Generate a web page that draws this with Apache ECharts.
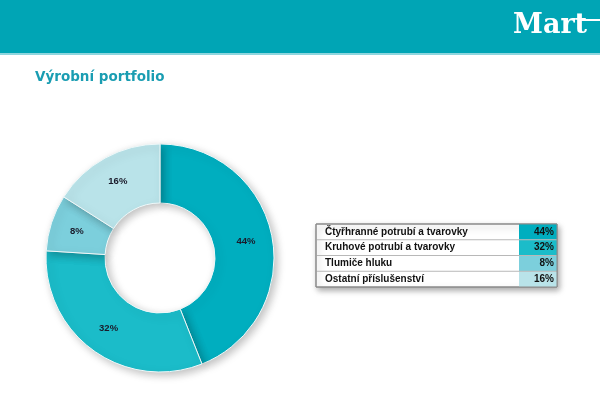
<!DOCTYPE html>
<html><head><meta charset="utf-8">
<script src="https://cdn.jsdelivr.net/npm/echarts@6/dist/echarts.min.js"></script>
<style>html,body{margin:0;padding:0;background:#fff}#c{width:600px;height:393px}</style>
</head><body><div id="c"></div>
<script>
const categories = ['Čtyřhranné potrubí a tvarovky','Kruhové potrubí a tvarovky','Tlumiče hluku','Ostatní příslušenství'];
const values = [44, 32, 8, 16];
const colors = ['#00aebf','#1bbcc9','#7ccfdc','#b9e3e9'];
const title = 'Výrobní portfolio';
const logo = 'Mart';

const chart = echarts.init(document.getElementById('c'));
const tx = 316, ty = 224, tw = 241, rh = 15.75, vw = 38;
const tableEls = [];
tableEls.push({type:'rect', shape:{x:tx,y:ty,width:tw,height:rh*categories.length},
  style:{fill:'#fff',stroke:'#8a8a8a',lineWidth:1,shadowBlur:6,shadowColor:'rgba(0,0,0,0.35)',shadowOffsetX:2,shadowOffsetY:3}});
categories.forEach((c,i)=>{
  const y = ty + i*rh;
  tableEls.push({type:'rect', shape:{x:tx+tw-vw,y:y,width:vw,height:rh}, style:{fill:colors[i]}});
  if(i>0) tableEls.push({type:'line', shape:{x1:tx,y1:y,x2:tx+tw,y2:y}, style:{stroke:'#b8b8b8',lineWidth:1}});
  tableEls.push({type:'text', x:tx+9, y:y+rh/2, style:{text:c, font:'bold 10px "Liberation Sans", Arial, sans-serif', fill:'#111', verticalAlign:'middle'}});
  tableEls.push({type:'text', x:tx+tw-3, y:y+rh/2, style:{text:values[i]+'%', font:'bold 10px "Liberation Sans", Arial, sans-serif', fill:'#111', align:'right', verticalAlign:'middle'}});
});
tableEls.push({type:'rect', shape:{x:tx,y:ty,width:tw,height:rh*categories.length}, style:{fill:'none',stroke:'#8a8a8a',lineWidth:1}});

chart.setOption({
  animation:false,
  graphic:[
    {type:'rect', shape:{x:0,y:0,width:600,height:53}, style:{fill:'#00a5b5'}, z:0},
    {type:'rect', shape:{x:0,y:53,width:600,height:2}, style:{fill:'#8fd6de'}, z:0},
    {type:'text', x:513, y:26, style:{text:logo, font:'bold 27px "DejaVu Serif", "Liberation Serif", serif', fill:'#fff', verticalAlign:'middle'}},
    {type:'rect', shape:{x:578,y:19,width:22,height:2}, style:{fill:'#fff'}},
    {type:'text', x:35, y:77, style:{text:title, font:'bold 13.5px "DejaVu Sans", Verdana, sans-serif', fill:'#1a9db2', verticalAlign:'middle'}},
    ...tableEls
  ],
  series:[{
    type:'pie',
    center:[160,258],
    radius:[55,114],
    startAngle:90,
    clockwise:true,
    data: categories.map((c,i)=>({name:c, value:values[i], itemStyle:{color:colors[i]}})),
    itemStyle:{borderColor:'#eef8f9', borderWidth:1, shadowBlur:8, shadowColor:'rgba(0,0,0,0.25)', shadowOffsetX:3, shadowOffsetY:3},
    label:{show:true, position:'inside', formatter:'{c}%', color:'#1a1a2a', fontSize:9.5, fontWeight:'bold', fontFamily:'"Liberation Sans", Arial, sans-serif'},
    labelLine:{show:false},
    emphasis:{disabled:true}
  }]
});
</script></body></html>
